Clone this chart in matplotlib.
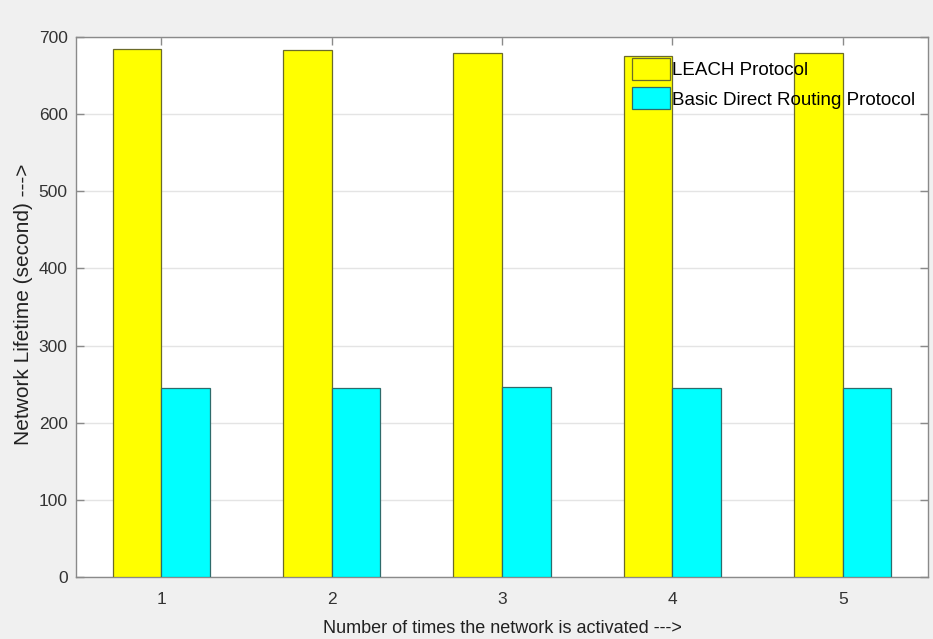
import matplotlib.pyplot as plt
import numpy as np

plt.rcParams['font.family'] = ['Liberation Sans', 'DejaVu Sans']

# Data
runs = [1, 2, 3, 4, 5]
leach = [685, 683, 679, 676, 679]
direct = [245, 245, 246, 245, 245]

x = np.array(runs)
w = 0.285

fig = plt.figure(figsize=(9.33, 6.39), dpi=100, facecolor='#f0f0f0')
ax = fig.add_axes([0.0815, 0.097, 0.913, 0.845])

ax.bar(x - w / 2, leach, w, color='#ffff00', edgecolor='#6b6b2a', linewidth=0.9,
       label='LEACH Protocol', zorder=3)
ax.bar(x + w / 2, direct, w, color='#00ffff', edgecolor='#2e6b6b', linewidth=0.9,
       label='Basic Direct Routing Protocol', zorder=3)

ax.set_xlim(0.5, 5.5)
ax.set_ylim(0, 700)
ax.set_xticks(runs)
ax.set_yticks(np.arange(0, 701, 100))

ax.yaxis.grid(True, color='#e4e4e4', linewidth=1.0, zorder=0)
ax.set_axisbelow(True)

for spine in ax.spines.values():
    spine.set_color('#8a8a8a')
    spine.set_linewidth(1.0)

ax.tick_params(direction='in', length=6, width=1, color='#8a8a8a',
               top=True, right=True, labelsize=12.5, labelcolor='#333333')
ax.tick_params(axis='x', pad=11)
ax.tick_params(axis='y', pad=6)

ax.set_xlabel('Number of times the network is activated --->', fontsize=13,
              color='#222222', labelpad=9)
ax.set_ylabel('Network Lifetime (second) --->', fontsize=15, color='#222222')
ax.yaxis.set_label_coords(-0.05, 0.505)

ax.legend(loc='upper right', frameon=False, fontsize=13.5, handlelength=2.0,
          handleheight=1.4, handletextpad=0.1, labelspacing=0.4,
          bbox_to_anchor=(1.0, 0.985), borderaxespad=0.3)

fig.savefig('out.png', dpi=100, facecolor=fig.get_facecolor())
